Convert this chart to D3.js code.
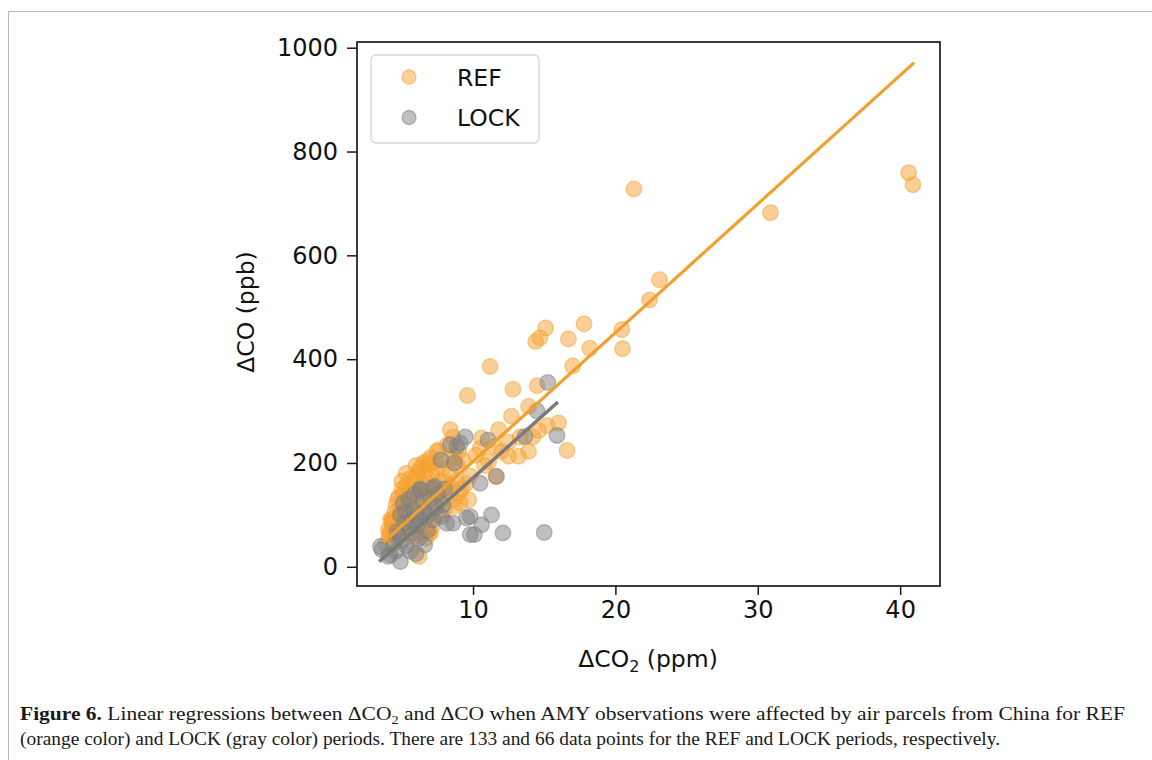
<!DOCTYPE html>
<html>
<head>
<meta charset="utf-8">
<script src="https://cdn.jsdelivr.net/npm/d3@7"></script>
<style>
  html, body { margin: 0; padding: 0; background: #fff; }
  svg { display: block; }
</style>
</head>
<body>
<svg id="chart" width="1152" height="760"></svg>
<script>
// ---------------- DATA ----------------
const seriesNames = ["REF", "LOCK"];

const refPoints = [
  [40.6,759],[40.9,736],[30.9,682],[21.3,728],[23.1,553],[22.4,514],[20.45,457],[20.5,420],
  [18.2,421],[17.8,468],[16.7,439],[17.0,387],[16.6,224],[15.1,460],[14.7,441],[14.4,434],
  [11.2,386],[9.6,330],[12.8,342],[14.5,349],[13.9,309],[12.7,290],[11.8,264],[8.4,264],
  [10.6,248],[16.0,277],[15.2,272],[14.6,262],[13.9,222],[13.2,213],[12.5,213],[12.0,222],
  [11.1,203],[11.6,174],[9.7,129],[9.0,142],[8.7,116],[7.0,65],[4.3,91],[6.2,20],
  [10.2,215],[10.8,195],[11.5,232],[9.3,205],[9.8,175],[12.5,240],[13.3,250],[14.2,250],
  [10.5,228],[8.6,250],[8.2,235],[9.0,222],
  [7.6,225],[6.75,203],[6.6,180],[5.45,158],[5.1,142],[4.2,91],[4.05,71],[7.1,75],
  [6.9,65],[9.1,123],[8.6,129],[8.15,161],[8.4,180],[7.45,222],[7.1,177],[5.9,168],
  [5.3,155],[7.9,190],[7.2,200],[6.3,190],[6.0,175],[5.6,170],[5.0,150],[4.8,135],
  [4.6,120],[4.5,105],[4.3,85],[4.1,60],[3.9,45],[4.3,75],[5.0,165],[4.7,55],
  [5.0,70],[5.3,85],[5.6,100],[5.9,115],[6.2,130],[6.5,145],[6.8,160],[7.2,150],
  [7.5,140],[7.8,130],[8.1,145],[8.4,155],[8.8,165],[9.2,150],[9.5,160],[8.0,110],
  [7.6,100],[7.3,120],[6.9,110],[6.6,95],[6.3,80],[6.0,60],[6.5,200],[6.2,185],
  [7.0,210],[6.0,195],[6.7,55],[5.2,110],[4.9,95],[5.5,125],[5.8,135],[6.1,145],
  [6.4,160],[4.6,80],[4.2,65],[4.4,88],[5.4,140],[4.7,130],[7.0,90],[7.7,165],
  [8.3,205],[8.7,210],[6.9,195],[5.3,180],[4.9,115],[5.6,60],[6.8,125],[7.4,185],
  [8.9,195]
];

const lockPoints = [
  [15.25,355],[14.5,300],[15.9,253],[9.45,250],[11.05,244],[13.65,251],[8.85,232],[9.1,238],
  [8.4,235],[7.75,206],[8.7,200],[6.3,150],[7.3,155],[11.65,174],[10.5,161],[8.15,84],
  [8.6,84],[9.8,97],[11.3,100],[10.6,81],[9.8,62],[10.1,62],[12.1,65],[15.0,66],
  [4.9,10],[3.6,33],[4.05,20],[6.3,148],[7.2,152],[5.1,123],[7.9,119],[7.8,97],
  [9.55,94],[3.5,39],[4.2,23],[6.6,42],[4.65,68],
  [5.5,130],[5.8,110],[6.0,100],[6.3,95],[6.6,105],[6.9,100],[7.2,90],[5.2,85],
  [5.5,75],[5.8,65],[6.1,80],[4.8,60],[5.0,50],[5.3,40],[5.6,30],[6.0,25],
  [4.4,45],[4.6,30],[5.9,140],[6.5,125],[7.0,130],[7.5,140],[8.0,150],[4.9,100],
  [5.3,105],[6.2,55],[6.8,70],[7.4,115],[5.7,90]
];

// regression lines: [slope, intercept], x extent
const refFit  = [24.8, -45];
const refFitX = [3.8, 40.9];
const lockFit  = [24.5, -73.6];
const lockFitX = [3.5, 15.87];

const xTicks = [10, 20, 30, 40];
const yTicks = [0, 200, 400, 600, 800, 1000];
const xDomain = [1.85, 42.8];
const yDomain = [-37, 1011];

// ---------------- DRAW ----------------
const svg = d3.select("#chart");
const colors = { REF: "#f5a231", LOCK: "#7f7f7f" };
const lineColors = { REF: "#f0a02e", LOCK: "#7a7a7a" };

// figure border
svg.append("rect").attr("x", 8.5).attr("y", 11.5).attr("width", 1160).attr("height", 800)
  .attr("fill", "none").attr("stroke", "#b5b5b5").attr("stroke-width", 1);

const plot = { left: 357, right: 940, top: 42, bottom: 586 };
const x = d3.scaleLinear().domain(xDomain).range([plot.left, plot.right]);
const y = d3.scaleLinear().domain(yDomain).range([plot.bottom, plot.top]);

const font = "'DejaVu Sans', sans-serif";

const gPts = svg.append("g");
function drawPts(data, name) {
  gPts.append("g").selectAll("circle").data(data).join("circle")
    .attr("cx", d => x(d[0])).attr("cy", d => y(d[1])).attr("r", 7.8)
    .attr("fill", colors[name]).attr("fill-opacity", 0.5)
    .attr("stroke", colors[name]).attr("stroke-opacity", 0.5).attr("stroke-width", 1.3);
}
drawPts(refPoints, "REF");
drawPts(lockPoints, "LOCK");

function drawFit(fit, ext, name, w) {
  const pts = ext.map(v => [v, fit[0] * v + fit[1]]);
  svg.append("path").datum(pts)
    .attr("d", d3.line().x(d => x(d[0])).y(d => y(d[1])))
    .attr("stroke", lineColors[name]).attr("stroke-width", w).attr("fill", "none")
    .attr("stroke-linecap", "square");
}
drawFit(refFit, refFitX, "REF", 3.2);
drawFit(lockFit, lockFitX, "LOCK", 3.6);

// axes
const xAxis = svg.append("g").attr("transform", `translate(0,${plot.bottom})`)
  .call(d3.axisBottom(x).tickValues(xTicks).tickSize(9).tickPadding(6).tickFormat(d3.format("d")));
const yAxis = svg.append("g").attr("transform", `translate(${plot.left},0)`)
  .call(d3.axisLeft(y).tickValues(yTicks).tickSize(10).tickPadding(9).tickFormat(d3.format("d")));
[xAxis, yAxis].forEach(a => {
  a.select(".domain").remove();
  a.selectAll(".tick line").attr("stroke", "#1a1a1a").attr("stroke-width", 1.5);
  a.selectAll(".tick text").attr("font-family", font).attr("font-size", 24).attr("fill", "#111");
});

// frame
svg.append("rect").attr("x", plot.left).attr("y", plot.top)
  .attr("width", plot.right - plot.left).attr("height", plot.bottom - plot.top)
  .attr("fill", "none").attr("stroke", "#1a1a1a").attr("stroke-width", 1.7);

// axis labels
const xl = svg.append("text").attr("x", 648).attr("y", 667).attr("text-anchor", "middle")
  .attr("font-family", font).attr("font-size", 23.5).attr("fill", "#111");
xl.append("tspan").text("ΔCO");
xl.append("tspan").text("2").attr("font-size", 16).attr("dy", 5);
xl.append("tspan").text(" (ppm)").attr("dy", -5);

svg.append("text").attr("transform", "translate(254,312) rotate(-90)").attr("text-anchor", "middle")
  .attr("font-family", font).attr("font-size", 23.5).attr("fill", "#111").text("ΔCO (ppb)");

// legend
const lg = svg.append("g");
lg.append("rect").attr("x", 371).attr("y", 55).attr("width", 168).attr("height", 88)
  .attr("rx", 5).attr("fill", "#fff").attr("fill-opacity", 0.8).attr("stroke", "#d6d6d6").attr("stroke-width", 1.3);
seriesNames.forEach((n, i) => {
  const cy = 77 + i * 40.5;
  lg.append("circle").attr("cx", 409).attr("cy", cy).attr("r", 7)
    .attr("fill", colors[n]).attr("fill-opacity", 0.5)
    .attr("stroke", colors[n]).attr("stroke-opacity", 0.5).attr("stroke-width", 1.3);
  lg.append("text").attr("x", 457).attr("y", cy + 8.5).attr("font-family", font)
    .attr("font-size", 23.5).attr("fill", "#111").text(n);
});

// caption
const serif = "'Liberation Serif', 'DejaVu Serif', serif";
const c1 = svg.append("text").attr("x", 20).attr("y", 720).attr("font-family", serif)
  .attr("font-size", 19.5).attr("fill", "#1a1a1a").attr("textLength", 1105).attr("lengthAdjust", "spacingAndGlyphs");
c1.append("tspan").attr("font-weight", "bold").text("Figure 6.");
c1.append("tspan").text(" Linear regressions between ΔCO");
c1.append("tspan").text("2").attr("font-size", 13).attr("dy", 4);
c1.append("tspan").text(" and ΔCO when AMY observations were affected by air parcels from China for REF").attr("dy", -4);

svg.append("text").attr("x", 20).attr("y", 745).attr("font-family", serif)
  .attr("font-size", 19.5).attr("fill", "#1a1a1a").attr("textLength", 980).attr("lengthAdjust", "spacingAndGlyphs")
  .text("(orange color) and LOCK (gray color) periods. There are 133 and 66 data points for the REF and LOCK periods, respectively.");
</script>
</body>
</html>
